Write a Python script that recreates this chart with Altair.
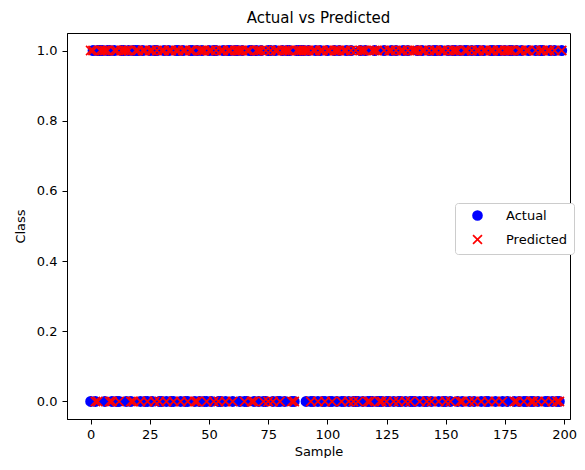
import altair as alt
import pandas as pd

actual = [0,1,0,1,1,1,0,1,1,0, 1,0,0,1,1,0,1,0,1,1,
          1,0,1,0,0,1,0,1,1,0, 0,1,0,1,0,0,1,1,0,1,
          0,0,1,1,0,1,0,1,0,0, 1,0,1,1,0,0,1,0,1,1,
          0,1,1,0,1,0,0,1,1,0, 1,0,1,0,0,1,1,0,1,0,
          0,1,0,1,1,0,0,1,1,1, 1,0,1,0,0,1,0,1,0,0,
          1,0,0,1,0,1,0,0,1,0, 1,0,0,0,1,0,1,0,0,0,
          1,0,0,0,1,0,0,1,0,1, 0,0,1,0,1,0,0,0,1,0,
          1,0,0,1,0,1,1,0,1,0, 0,1,0,1,1,0,1,0,1,1,
          0,1,0,1,1,0,1,0,0,1, 1,0,1,1,0,1,0,1,1,0,
          1,0,1,0,0,1,0,0,1,0, 1,1,0,0,1,0,1,0,0,1]

predicted = [1,1,0,0,1,1,1,1,0,0, 1,1,0,1,1,1,1,0,0,1,
             1,0,1,1,0,1,1,0,1,0, 1,1,0,1,1,0,1,1,0,1,
             1,0,1,1,0,0,1,1,1,0, 1,1,0,1,0,1,1,0,1,1,
             0,1,1,1,1,0,1,1,0,0, 1,1,1,0,1,0,1,0,1,1,
             0,1,1,1,1,0,0,1,1,1, 1,1,1,0,1,1,0,1,1,0,
             1,1,0,1,1,1,0,1,1,0, 1,0,1,0,1,1,1,0,0,1,
             1,1,0,0,1,0,1,1,0,1, 0,1,1,0,1,0,1,1,1,0,
             1,1,0,1,0,1,1,0,1,1, 0,1,0,1,1,1,0,0,1,1,
             0,1,0,1,1,0,1,1,0,1, 1,0,1,1,0,1,1,1,1,0,
             0,1,1,0,1,1,0,0,1,0, 1,1,0,1,1,0,1,0,0,1]

series_names = ["Actual", "Predicted"]
series_colors = ["blue", "red"]
x_ticks = [0, 25, 50, 75, 100, 125, 150, 175, 200]
y_ticks = [0.0, 0.2, 0.4, 0.6, 0.8, 1.0]

n = min(len(actual), len(predicted))
rows = []
for i in range(n):
    rows.append({"Sample": i, "Class": actual[i], "Series": "Actual", "order": 0})
for i in range(n):
    rows.append({"Sample": i, "Class": predicted[i], "Series": "Predicted", "order": 1})
df = pd.DataFrame(rows)

xshape = "M-1,-1L1,1M-1,1L1,-1"
leg = dict(title=None, orient="none", legendX=388, legendY=170)

chart = alt.Chart(df).mark_point(strokeWidth=1.7, opacity=1).encode(
    x=alt.X("Sample:Q", scale=alt.Scale(domain=[-10, 202.5], nice=False, zero=False),
            axis=alt.Axis(values=x_ticks, title="Sample", grid=False, format="d",
                          labelPadding=4, titlePadding=4)),
    y=alt.Y("Class:Q", scale=alt.Scale(domain=[-0.05, 1.05], nice=False, zero=False),
            axis=alt.Axis(values=y_ticks, title="Class", grid=False, format=".1f",
                          labelPadding=5, titlePadding=9)),
    color=alt.Color("Series:N", scale=alt.Scale(domain=series_names, range=series_colors),
                    legend=alt.Legend(strokeColor="#cccccc", fillColor="white", padding=6,
                                      cornerRadius=3, labelFontSize=13, symbolSize=80,
                                      rowPadding=7, labelOffset=22, symbolOffset=10,
                                      labelFont="DejaVu Sans",
                                      labelColor="black", symbolStrokeWidth=1.7, **leg)),
    fill=alt.Fill("Series:N", scale=alt.Scale(domain=series_names, range=["blue", "transparent"]),
                  legend=alt.Legend(**leg)),
    shape=alt.Shape("Series:N", scale=alt.Scale(domain=series_names, range=["circle", xshape]),
                    legend=alt.Legend(**leg)),
    size=alt.value(85),
    order=alt.Order("order:Q"),
).properties(
    width=503, height=386,
    title=alt.TitleParams("Actual vs Predicted", fontSize=15, fontWeight="normal",
                          font="DejaVu Sans", color="black", offset=7),
    padding={"left": 6, "top": 3, "right": 0, "bottom": 0},
).configure_axis(
    labelFont="DejaVu Sans", titleFont="DejaVu Sans", labelFontSize=13, titleFontSize=13,
    titleFontWeight="normal", labelColor="black", titleColor="black",
    domainColor="black", tickColor="black", tickSize=5,
).configure_view(stroke="black", strokeWidth=1)

chart.save("out.html", embed_options={"renderer": "svg", "actions": False})
